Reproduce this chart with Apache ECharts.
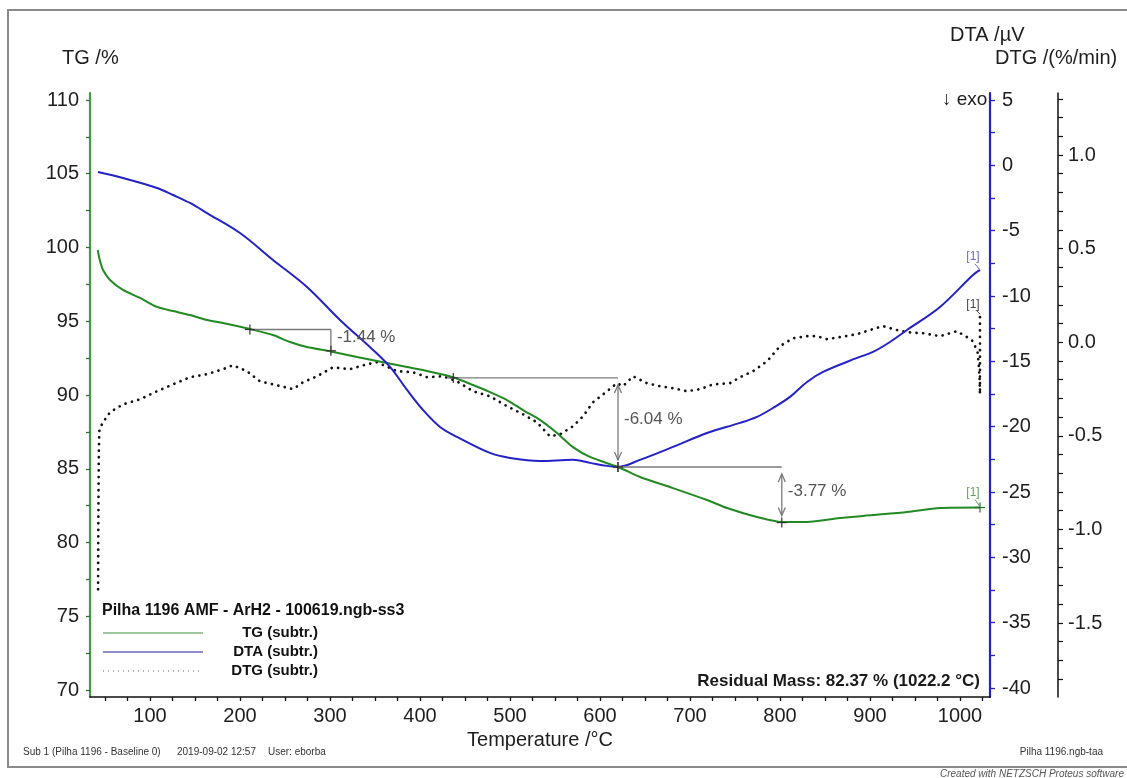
<!DOCTYPE html>
<html>
<head>
<meta charset="utf-8">
<script src="https://cdn.jsdelivr.net/npm/echarts@6/dist/echarts.min.js"></script>
<style>
  html, body { margin: 0; padding: 0; background: #ffffff; }
  #chart { width: 1127px; height: 778px; }
</style>
</head>
<body>
<div id="chart"></div>
<script>
const FONT = '"Liberation Sans", Arial, Helvetica, sans-serif';

// TG (subtr.): mass in % versus temperature in °C
const tgTemp = [42, 44, 47.8, 55.6, 70, 88.9, 107.8, 125.6, 144.4, 163.3,
  181.1, 211.1, 236.7, 255.6, 274.4, 301.1, 330, 363.3, 385.6, 403.3,
  436.7, 458.9, 477.8, 496.7, 514.4, 533.3, 552.2, 570, 588.9, 620,
  644.4, 681.1, 718.9, 741.1, 774.4, 802.2, 830, 866.7, 903.3, 941.1,
  977.8, 1022.2];
const tgMass = [99.83, 99.2, 98.47, 97.8, 97.12, 96.58, 95.97, 95.69, 95.42, 95.08,
  94.88, 94.47, 94.07, 93.59, 93.25, 92.95, 92.58, 92.17, 91.9, 91.69,
  91.2, 90.68, 90.2, 89.66, 88.98, 88.31, 87.42, 86.47, 85.8, 85.12,
  84.44, 83.69, 82.88, 82.34, 81.73, 81.39, 81.39, 81.66, 81.86, 82.07,
  82.34, 82.37];

// DTA (subtr.): signal in µV
const dtaTemp = [42.2, 70, 107.8, 125.6, 144.4, 163.3, 200, 236.7, 274.4, 311.1,
  347.8, 366.7, 385.6, 403.3, 422.2, 441.1, 477.8, 500, 533.3, 570,
  588.9, 607.8, 620, 644.4, 681.1, 718.9, 755.6, 774.4, 792.2, 811.1,
  830, 847.8, 885.6, 903.3, 922.2, 941.1, 977.8, 1014.4, 1022.2];
const dtaSignal = [-0.51, -0.97, -1.73, -2.27, -2.88, -3.65, -5.18, -7.24, -9.31, -11.83,
  -14.13, -15.43, -17.19, -18.72, -20.02, -20.78, -22.01, -22.39, -22.62, -22.54,
  -22.77, -23.0, -23.08, -22.54, -21.55, -20.48, -19.71, -19.25, -18.57, -17.72,
  -16.58, -15.81, -14.74, -14.28, -13.52, -12.6, -10.84, -8.39, -8.0];

// DTG (subtr.): rate in %/min
const dtgTemp = [42.3, 42.5, 42.8, 43.1, 43.4, 43.8, 47.8, 55.6, 70, 88.9,
  107.8, 125.6, 144.4, 163.3, 181.1, 192.2, 207.8, 222.2, 241.1, 258.9,
  270, 285.6, 303.3, 322.2, 341.1, 352.2, 374.4, 392.2, 407.8, 425.6,
  441.1, 458.9, 477.8, 496.7, 514.4, 530, 544.4, 555.6, 570, 581.1,
  592.2, 607.8, 618.9, 625.6, 636.7, 652.2, 666.7, 681.1, 696.7, 711.1,
  725.6, 744.4, 755.6, 770, 785.6, 800, 814.4, 830, 841.1, 852.2,
  866.7, 885.6, 903.3, 914.4, 925.6, 941.1, 958.9, 977.8, 996.7, 1007.8,
  1014.4, 1019.5, 1021, 1021.8, 1022.2, 1022.2];
const dtgRate = [-1.32, -1.05, -0.80, -0.62, -0.52, -0.465, -0.428, -0.374, -0.332, -0.305,
  -0.262, -0.225, -0.187, -0.171, -0.144, -0.123, -0.155, -0.209, -0.230, -0.251,
  -0.214, -0.182, -0.134, -0.144, -0.118, -0.107, -0.155, -0.160, -0.187, -0.182,
  -0.209, -0.262, -0.289, -0.342, -0.385, -0.428, -0.503, -0.492, -0.449, -0.396,
  -0.321, -0.262, -0.219, -0.235, -0.182, -0.219, -0.235, -0.246, -0.262, -0.251,
  -0.225, -0.219, -0.187, -0.155, -0.102, -0.021, 0.021, 0.032, 0.032, 0.016,
  0.027, 0.043, 0.070, 0.086, 0.070, 0.053, 0.048, 0.032, 0.059, 0.027,
  0.005, -0.053, -0.128, -0.198, -0.278, 0.150];

// Tick labels
const tempLabels = [100, 200, 300, 400, 500, 600, 700, 800, 900, 1000];
const tgLabels = [70, 75, 80, 85, 90, 95, 100, 105, 110];
const dtaLabels = [-40, -35, -30, -25, -20, -15, -10, -5, 0, 5];
const dtgLabels = [-1.5, -1.0, -0.5, 0.0, 0.5, 1.0];

// Mass-loss steps evaluated on the TG curve
const stepStartTemp = [211, 437, 620];
const stepEndTemp = [301, 620, 802];
const stepFromMass = [94.44, 91.16, 85.12];
const stepToMass = [93.00, 85.12, 81.35];
const stepHasArrows = [false, true, true];

// Residual mass at the end of the run
const residualTemp = 1022.2;
const residualMass = 82.37;

function range(a, b, step) {
  const out = [];
  const n = Math.round((b - a) / step);
  for (let i = 0; i <= n; i++) out.push(+(a + i * step).toFixed(4));
  return out;
}
const zip = (xs, ys) => xs.map((x, i) => [x, ys[i]]);

const TG_COLOR = '#238a23';
const TG_AXIS = '#3f9f3f';
const DTA_COLOR = '#2222c6';
const DTG_COLOR = '#111111';
const LABEL = '#1e1e1e';

const chart = echarts.init(document.getElementById('chart'), null, { renderer: 'canvas' });

chart.setOption({
  animation: false,
  backgroundColor: '#ffffff',
  grid: { left: 90, right: 137, top: 93, bottom: 81, containLabel: false },
  xAxis: {
    type: 'value',
    min: 100 / 3,
    max: 3100 / 3,
    name: 'Temperature /°C',
    nameLocation: 'middle',
    nameGap: 29,
    nameTextStyle: { fontFamily: FONT, fontSize: 20, color: LABEL },
    axisLine: { show: true, onZero: false, lineStyle: { color: '#111', width: 1.5 } },
    axisTick: { show: true, customValues: range(50, 1025, 25), length: 4, lineStyle: { color: '#111', width: 1.3 } },
    axisLabel: { customValues: tempLabels, fontFamily: FONT, fontSize: 20, color: LABEL, margin: 9,
      formatter: v => String(Math.round(v)) },
    splitLine: { show: false }
  },
  yAxis: [
    {
      type: 'value', position: 'left',
      min: 70 - 7 / 14.75, max: 110 + 7 / 14.75,
      axisLine: { show: true, lineStyle: { color: TG_AXIS, width: 2.2 } },
      axisTick: { show: true, customValues: range(70, 110, 2.5), length: 4, lineStyle: { color: '#2d7a2d', width: 1.3 } },
      axisLabel: { customValues: tgLabels, fontFamily: FONT, fontSize: 20, color: LABEL, margin: 11 },
      splitLine: { show: false }
    },
    {
      type: 'value', position: 'right', offset: 0,
      min: -40 - 9 / 13.067, max: 5 + 7 / 13.067,
      axisLine: { show: true, lineStyle: { color: DTA_COLOR, width: 2.2 } },
      axisTick: { show: true, customValues: range(-40, 5, 2.5), length: 5, lineStyle: { color: DTA_COLOR, width: 1.3 } },
      axisLabel: { customValues: dtaLabels, fontFamily: FONT, fontSize: 20, color: LABEL, margin: 12 },
      splitLine: { show: false }
    },
    {
      type: 'value', position: 'right', offset: 68,
      min: -1.5 - 74 / 187.2, max: 1.0 + 62 / 187.2,
      axisLine: { show: true, lineStyle: { color: '#111', width: 1.5 } },
      axisTick: { show: true, customValues: range(-1.8, 1.3, 0.1), length: 5, lineStyle: { color: '#111', width: 1.2 } },
      axisLabel: {
        customValues: dtgLabels, fontFamily: FONT, fontSize: 20, color: LABEL, margin: 10,
        formatter: v => Number(v).toFixed(1)
      },
      splitLine: { show: false }
    }
  ],
  series: [
    {
      name: 'TG (subtr.)', type: 'line', yAxisIndex: 0,
      data: zip(tgTemp, tgMass), showSymbol: false, smooth: 0.25,
      lineStyle: { color: TG_COLOR, width: 2 }, z: 3
    },
    {
      name: 'DTA (subtr.)', type: 'line', yAxisIndex: 1,
      data: zip(dtaTemp, dtaSignal), showSymbol: false, smooth: 0.35,
      lineStyle: { color: DTA_COLOR, width: 2 }, z: 4
    },
    {
      name: 'DTG (subtr.)', type: 'line', yAxisIndex: 2,
      data: zip(dtgTemp, dtgRate), showSymbol: false, smooth: false,
      lineStyle: { color: DTG_COLOR, width: 2.7, type: [0.1, 6.5], cap: 'round' }, z: 2
    }
  ]
});

// ---- overlay: annotations, legend, titles and footer ----
const toPx = (t, v, axis) => chart.convertToPixel({ xAxisIndex: 0, yAxisIndex: axis }, [t, v]);
const els = [];
const ANN = '#7a7a7a';

function seg(x1, y1, x2, y2, color, w, dash) {
  els.push({ type: 'line', silent: true, z: 20,
    shape: { x1, y1, x2, y2 },
    style: { stroke: color, lineWidth: w, lineDash: dash || null } });
}
function txt(text, x, y, opt) {
  els.push({ type: 'text', silent: true, z: 30,
    style: Object.assign({ text, x, y, fill: LABEL, font: '20px ' + FONT,
      textAlign: 'left', textVerticalAlign: 'middle' }, opt || {}) });
}
function plus(p, color) {
  seg(p[0] - 5, p[1], p[0] + 5, p[1], color || '#333', 1.2);
  seg(p[0], p[1] - 5, p[0], p[1] + 5, color || '#333', 1.2);
}
function chevron(x, y, dir) {
  els.push({ type: 'polyline', silent: true, z: 20,
    shape: { points: [[x - 3.5, y - dir * 8], [x, y], [x + 3.5, y - dir * 8]] },
    style: { stroke: ANN, lineWidth: 1.3, fill: null } });
}

// Frame
els.push({ type: 'rect', silent: true, z: 0,
  shape: { x: 8, y: 10, width: 1145, height: 757 },
  style: { fill: null, stroke: '#8a8a8a', lineWidth: 2 } });

// Axis titles
txt('TG /%', 62, 58);
txt('DTA /µV', 950, 35);
txt('DTG /(%/min)', 995, 58);
txt('↓ exo', 942, 100, { font: '19px ' + FONT });

// Mass-loss steps
for (let i = 0; i < stepStartTemp.length; i++) {
  const p0 = toPx(stepStartTemp[i], stepFromMass[i], 0);
  const p1 = toPx(stepEndTemp[i], stepFromMass[i], 0);
  const p2 = toPx(stepEndTemp[i], stepToMass[i], 0);
  seg(p0[0], p0[1], p1[0], p1[1], ANN, 1.3);
  if (stepHasArrows[i]) {
    const inset = 7;
    seg(p1[0], p1[1] + inset, p2[0], p2[1] - inset, ANN, 1.3);
    chevron(p1[0], p1[1] + inset, -1);
    chevron(p2[0], p2[1] - inset, 1);
  } else {
    seg(p1[0], p1[1], p2[0], p2[1] + 3, ANN, 1.3);
  }
  plus(p0);
  plus(p2);
  const delta = (stepToMass[i] - stepFromMass[i]).toFixed(2) + ' %';
  txt(delta, p1[0] + 6, (p1[1] + p2[1]) / 2 - 3, { font: '17px ' + FONT, fill: '#555555' });
}

// End-of-curve markers [1]
const tgEnd = toPx(tgTemp[tgTemp.length - 1], tgMass[tgMass.length - 1], 0);
const dtaEnd = toPx(dtaTemp[dtaTemp.length - 1], dtaSignal[dtaSignal.length - 1], 1);
const dtgEnd = toPx(dtgTemp[dtgTemp.length - 1], dtgRate[dtgRate.length - 1], 2);
plus(tgEnd, '#2d6a2d');
txt('[1]', tgEnd[0] - 7, tgEnd[1] - 15, { font: '12px ' + FONT, fill: '#5aa55a', textAlign: 'center' });
seg(tgEnd[0] - 5, tgEnd[1] - 8, tgEnd[0], tgEnd[1] - 1, '#5aa55a', 1);
txt('[1]', dtaEnd[0] - 7, dtaEnd[1] - 13, { font: '12px ' + FONT, fill: '#6a6ad0', textAlign: 'center' });
seg(dtaEnd[0] - 5, dtaEnd[1] - 6, dtaEnd[0], dtaEnd[1], '#6a6ad0', 1);
txt('[1]', dtgEnd[0] - 7, dtgEnd[1] - 9, { font: '12px ' + FONT, fill: '#444444', textAlign: 'center' });
seg(dtgEnd[0] - 4, dtgEnd[1] - 4, dtgEnd[0], dtgEnd[1], '#444444', 1);

// Residual mass
txt('Residual Mass: ' + residualMass.toFixed(2) + ' % (' + residualTemp.toFixed(1) + ' °C)', 980, 681,
  { font: 'bold 17px ' + FONT, textAlign: 'right', fill: '#1a1a1a' });

// Legend
txt('Pilha 1196 AMF - ArH2 - 100619.ngb-ss3', 102, 611, { font: 'bold 16px ' + FONT, fill: '#111' });
seg(103, 633, 203, 633, '#7fb27f', 1.6);
txt('TG (subtr.)', 318, 633, { font: 'bold 15px ' + FONT, fill: '#111', textAlign: 'right' });
seg(103, 652, 203, 652, '#6a6ab8', 1.6);
txt('DTA (subtr.)', 318, 652, { font: 'bold 15px ' + FONT, fill: '#111', textAlign: 'right' });
seg(103, 671, 203, 671, '#9a9a9a', 1.4, [1, 4]);
txt('DTG (subtr.)', 318, 671, { font: 'bold 15px ' + FONT, fill: '#111', textAlign: 'right' });

// Footer
const FOOT = { font: '10px ' + FONT, fill: '#333' };
txt('Sub 1 (Pilha 1196 - Baseline 0)', 23, 752, FOOT);
txt('2019-09-02 12:57', 177, 752, FOOT);
txt('User: eborba', 268, 752, FOOT);
txt('Pilha 1196.ngb-taa', 1103, 752, Object.assign({}, FOOT, { textAlign: 'right' }));
txt('Created with NETZSCH Proteus software', 940, 774, { font: 'italic 10px ' + FONT, fill: '#555' });

chart.setOption({ graphic: { elements: els } });
</script>
</body>
</html>
